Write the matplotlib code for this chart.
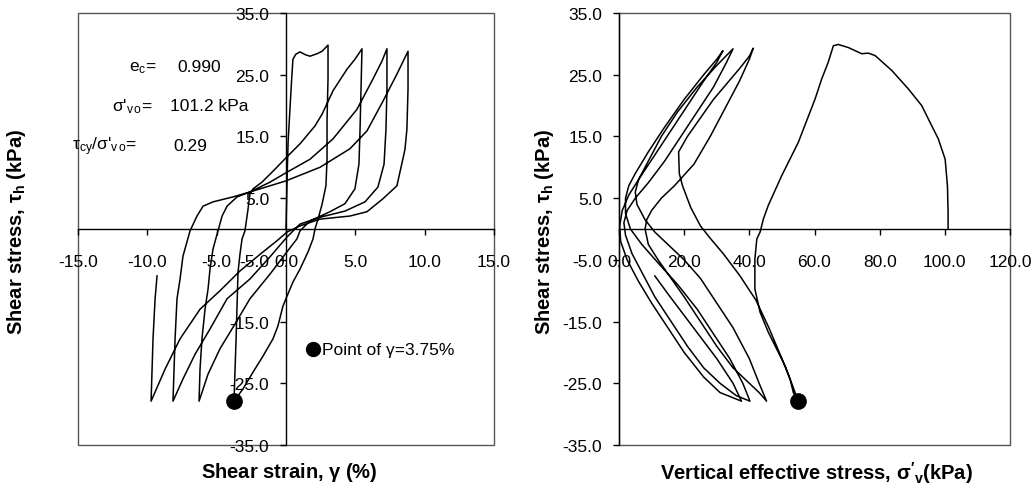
import matplotlib
matplotlib.use("Agg")
import matplotlib.pyplot as plt
from matplotlib.patches import Rectangle
import numpy as np

plt.rcParams['font.family'] = ['Liberation Sans', 'DejaVu Sans']
plt.rcParams['mathtext.fontset'] = 'custom'
plt.rcParams['mathtext.rm'] = 'Liberation Sans'
plt.rcParams['mathtext.it'] = 'Liberation Sans:italic'
plt.rcParams['mathtext.bf'] = 'Liberation Sans:bold'

# ---------------- stress-strain loops (strain %, shear stress kPa) ----------------
strain_load0 = [0, 0.05, 0.1, 0.15, 0.25, 0.4, 0.5, 0.7, 1.0, 1.44, 1.73, 2.24, 2.6, 3.03]
tau_load0    = [0, 5.0, 10.0, 14.0, 18.0, 24.0, 27.5, 28.3, 28.7, 28.2, 28.0, 28.4, 28.8, 29.8]

strain_unl1 = [3.03, 3.03, 2.96, 2.96, 2.88, 2.60, 2.31, 2.09, 1.95, 1.59, 1.01, 0.50, 0.07,
               -0.22, -0.58, -0.94, -1.66, -2.38, -3.10, -3.75]
tau_unl1    = [29.7, 24.3, 17.8, 11.3, 7.0, 4.0, 1.6, 0.0, -1.6, -3.7, -6.5, -8.6, -10.9,
               -12.5, -15.7, -17.8, -20.6, -23.2, -25.9, -27.9]

strain_load2 = [-3.75, -3.68, -3.60, -3.53, -3.46, -3.32, -3.17, -2.96, -2.74, -2.60, -2.38,
                -1.73, -0.79, 0.07, 1.01, 2.09, 2.60, 3.39, 4.40, 4.97, 5.48]
tau_load2    = [-27.9, -23.2, -17.8, -12.5, -7.0, -4.1, -1.6, -0.3, 3.2, 5.7, 6.5,
                7.6, 9.7, 11.7, 13.8, 16.7, 18.6, 22.4, 25.9, 27.5, 29.2]

strain_unl2 = [5.48, 5.41, 5.34, 5.26, 4.97, 4.25, 3.17, 1.73, 1.01, 0.79, -0.07, -1.15,
               -2.60, -3.68, -4.76, -5.62, -6.27]
tau_unl2    = [29.2, 22.7, 16.2, 10.5, 6.5, 4.1, 2.8, 1.3, -0.3, -1.6, -4.1, -7.3,
               -11.3, -15.4, -19.4, -23.5, -27.9]

strain_load3 = [-6.27, -6.20, -6.06, -5.84, -5.62, -5.48, -5.26, -4.90, -4.61, -4.25, -3.53,
                -2.60, -1.15, 0.07, 1.73, 3.39, 5.12, 6.27, 6.92, 7.28]
tau_load3    = [-27.9, -22.7, -17.8, -13.0, -9.7, -6.5, -3.2, -0.3, 2.1, 3.7, 5.2,
                6.0, 7.6, 9.2, 11.3, 14.6, 19.4, 24.3, 27.2, 29.2]

strain_unl3 = [7.28, 7.28, 7.21, 7.07, 6.63, 5.70, 4.25, 2.45, 1.01, 0.07, -1.15, -2.60,
               -4.25, -5.48, -6.56, -7.43, -8.15]
tau_unl3    = [29.2, 22.7, 16.2, 10.5, 6.8, 4.4, 2.9, 1.9, 0.8, -1.3, -4.5, -8.1,
               -11.3, -16.2, -20.3, -24.3, -27.9]

strain_load4 = [-8.15, -8.07, -8.00, -7.86, -7.64, -7.43, -6.92, -6.42, -5.98, -5.26, -3.82,
                -2.60, 0.0, 2.45, 4.61, 5.84, 6.99, 8.00, 8.80]
tau_load4    = [-27.9, -22.7, -17.8, -11.3, -8.1, -4.4, -0.3, 2.1, 3.7, 4.4, 5.2,
                6.0, 7.8, 10.0, 13.0, 15.9, 20.7, 25.1, 28.8]

strain_unl4 = [8.80, 8.80, 8.72, 8.58, 8.00, 6.99, 5.84, 4.61, 2.45, 1.01, 0.07, -0.65,
               -1.87, -3.32, -4.76, -6.20, -7.64, -8.72, -9.73]
tau_unl4    = [28.8, 22.7, 16.2, 12.9, 7.0, 4.9, 2.8, 2.1, 1.6, 0.5, -0.5, -1.9,
               -4.1, -6.8, -10.0, -13.0, -17.8, -22.7, -27.9]

strain_load5 = [-9.73, -9.66, -9.59, -9.44, -9.30]
tau_load5    = [-27.9, -22.7, -17.8, -11.3, -7.6]

# ---------------- effective stress path (sigma'v kPa, shear stress kPa) ----------------
sig_path1 = [101.0, 101.0, 100.8, 100.1, 98.0, 96.0, 92.9, 88.8, 83.7, 78.6, 76.5, 74.5,
             70.4, 67.3, 65.8, 64.2, 62.2, 60.2, 55.0, 49.9, 45.8, 44.3, 43.3, 42.3,
             41.7, 41.7, 43.3, 45.8, 48.9, 51.0, 52.5, 53.5, 55.0]
tau_path1 = [0.0, 2.7, 7.0, 11.3, 14.6, 16.7, 20.0, 22.7, 25.7, 28.1, 28.5, 28.4,
             29.4, 29.9, 29.7, 27.0, 24.3, 21.1, 14.0, 8.6, 3.8, 1.6, -0.5, -1.6,
             -4.9, -9.7, -13.5, -16.7, -20.0, -22.2, -24.3, -26.5, -27.9]

sig_path2 = [55.0, 53, 50, 46, 42, 37, 32, 28, 25, 22, 19.5, 18.5, 18.3, 21, 25, 29, 33, 37, 40, 41.2]
tau_path2 = [-27.9, -25, -21, -16, -11.5, -7.5, -4, -1.5, 0.5, 3.5, 7, 9, 12.5, 15, 18, 21, 23.5, 26, 28, 29.3]

sig_path3 = [41.2, 40, 37, 33, 28, 23, 17, 13, 10, 8.5, 8, 9, 12, 16, 20, 25, 30, 35, 40, 43, 45.3]
tau_path3 = [29.3, 27.5, 24, 20, 15, 10.5, 7, 5, 3, 1.5, 0, -2.5, -5, -8, -11, -15, -19, -22.5, -25, -26.5, -27.9]

sig_path4 = [45.3, 43, 40, 35, 30, 25, 20, 15, 11, 8, 5.5, 5, 6, 9, 13, 18, 24, 30, 35]
tau_path4 = [-27.9, -25, -21, -16, -12, -8, -5, -2.5, -0.5, 1.5, 4, 6, 8, 11, 15, 19, 23, 26.5, 29.2]

sig_path5 = [35, 33, 29, 24, 19, 14, 9, 5, 2.5, 1.5, 2, 4, 7, 11, 16, 21, 26, 31, 36, 40.2]
tau_path5 = [29.2, 27, 23, 19, 15, 11, 7.5, 5, 3, 1, -1, -4, -7, -11, -15, -19, -22.5, -25, -27, -27.9]

sig_path6 = [40.2, 38, 34, 29, 24, 18, 12, 7, 3.5, 2, 2, 3, 5, 9, 14, 20, 26, 30, 31.9]
tau_path6 = [-27.9, -25, -21, -17, -13, -9, -5.5, -2.5, 0, 2.5, 5, 7, 9, 12.5, 16.5, 21, 25, 27.5, 28.9]

sig_path7 = [31.9, 30, 26, 21, 16, 11, 6, 3, 1, 0.2, 0.5, 2.5, 6, 10, 15, 20, 26, 31, 37.6]
tau_path7 = [28.9, 27, 24, 20, 16, 12, 8, 5.5, 3, 0.5, -2, -5, -8.5, -12, -16, -20, -24, -26.5, -27.9]

sig_path8 = [37.6, 35, 30, 25, 20, 15, 11]
tau_path8 = [-27.9, -25, -21, -17.5, -14, -10.5, -7.6]

# marked state at gamma = 3.75 %
mark_strain, mark_tau_l = -3.75, -27.9
mark_sigma, mark_tau_r = 55.0, -27.9

strain_ticks = [-15, -10, -5, 0, 5, 10, 15]
sigma_ticks = [0, 20, 40, 60, 80, 100, 120]
tau_ticks = [-35, -25, -15, -5, 5, 15, 25, 35]

W, H = 1035, 489
fig = plt.figure(figsize=(W / 100, H / 100), dpi=100)


def box(x0, x1, y0, y1):
    return [x0 / W, 1 - y1 / H, (x1 - x0) / W, (y1 - y0) / H]


axL = fig.add_axes(box(78, 494, 14, 446))
axR = fig.add_axes(box(619, 1010, 14, 446))

line_kw = dict(color='black', lw=1.1, solid_joinstyle='round')
tick_fs = 12.5
label_kw = dict(fontsize=14.5, fontweight='bold')

# ---- left: shear stress vs shear strain ----
strain_all = [strain_load0, strain_unl1, strain_load2, strain_unl2, strain_load3,
              strain_unl3, strain_load4, strain_unl4, strain_load5]
tau_all = [tau_load0, tau_unl1, tau_load2, tau_unl2, tau_load3,
           tau_unl3, tau_load4, tau_unl4, tau_load5]
xs = np.concatenate(strain_all)
ys = np.concatenate(tau_all)
axL.plot(xs, ys, **line_kw)
axL.plot([mark_strain], [mark_tau_l], 'o', color='black', ms=11)

axL.set_xlim(-15, 15)
axL.set_ylim(-35, 35)
axL.spines['left'].set_position(('data', 0))
axL.spines['bottom'].set_position(('data', 0))
axL.spines['top'].set_visible(False)
axL.spines['right'].set_visible(False)
for s in ('left', 'bottom'):
    axL.spines[s].set_color('black')
    axL.spines[s].set_linewidth(1.0)
axL.add_patch(Rectangle((0, 0), 1, 1, transform=axL.transAxes, fill=False,
                        ec='#555555', lw=1.0, clip_on=False, zorder=0))
axL.set_xticks(strain_ticks)
axL.set_xticklabels([f'{v:.1f}' for v in strain_ticks])
axL.set_yticks(tau_ticks)
axL.set_yticklabels([f'{v:.1f}' for v in tau_ticks])
axL.tick_params(axis='x', direction='out', length=4, width=1, labelsize=tick_fs, pad=14)
axL.tick_params(axis='y', direction='out', length=4, width=1, labelsize=tick_fs, pad=8)
axL.patch.set_alpha(0)

txt = dict(fontsize=tick_fs, va='center', ha='left', clip_on=False)
axL.text(-11.32, 26.25, r'e$_\mathrm{c}$=', **txt)
axL.text(-7.86, 26.25, '0.990', **txt)
axL.text(-12.55, 20.0, r"σ'$_\mathrm{v\,o}$=", **txt)
axL.text(-8.36, 20.0, '101.2 kPa', **txt)
axL.text(-15.43, 13.5, r"τ$_\mathrm{cy}$/σ'$_\mathrm{v\,o}$=", **txt)
axL.text(-8.15, 13.5, '0.29', **txt)
axL.plot([1.95], [-19.45], 'o', color='black', ms=10, clip_on=False)
axL.text(2.6, -19.45, 'Point of γ=3.75%', **txt)

# ---- right: shear stress vs vertical effective stress ----
sig_all = [sig_path1, sig_path2, sig_path3, sig_path4, sig_path5, sig_path6, sig_path7, sig_path8]
taur_all = [tau_path1, tau_path2, tau_path3, tau_path4, tau_path5, tau_path6, tau_path7, tau_path8]
axR.plot(np.concatenate(sig_all), np.concatenate(taur_all), **line_kw)
axR.plot([mark_sigma], [mark_tau_r], 'o', color='black', ms=11)

axR.set_xlim(0, 120)
axR.set_ylim(-35, 35)
axR.spines['bottom'].set_position(('data', 0))
axR.spines['top'].set_visible(False)
axR.spines['right'].set_visible(False)
for s in ('left', 'bottom'):
    axR.spines[s].set_color('black')
    axR.spines[s].set_linewidth(1.0)
axR.add_patch(Rectangle((0, 0), 1, 1, transform=axR.transAxes, fill=False,
                        ec='#555555', lw=1.0, clip_on=False, zorder=0))
axR.set_xticks(sigma_ticks)
axR.set_xticklabels([f'{v:.1f}' for v in sigma_ticks])
axR.set_yticks(tau_ticks)
axR.set_yticklabels([f'{v:.1f}' for v in tau_ticks])
axR.tick_params(axis='x', direction='out', length=4, width=1, labelsize=tick_fs, pad=14)
axR.tick_params(axis='y', direction='out', length=4, width=1, labelsize=tick_fs, pad=8)
axR.patch.set_alpha(0)

# ---- axis titles ----
fig.text(289 / W, 1 - 473 / H, r'Shear strain, $\mathbf{γ}$ (%)', ha='center', va='center', **label_kw)
fig.text(816 / W, 1 - 473 / H, r"Vertical effective stress, $\mathbf{σ'}_\mathbf{v}$(kPa)",
         ha='center', va='center', **label_kw)
fig.text(17 / W, 1 - 232 / H, r'Shear stress, $\mathbf{τ}_\mathbf{h}$ (kPa)', rotation=90,
         ha='center', va='center', **label_kw)
fig.text(545 / W, 1 - 232 / H, r'Shear stress, $\mathbf{τ}_\mathbf{h}$ (kPa)', rotation=90,
         ha='center', va='center', **label_kw)

fig.savefig('out.png', dpi=100)
